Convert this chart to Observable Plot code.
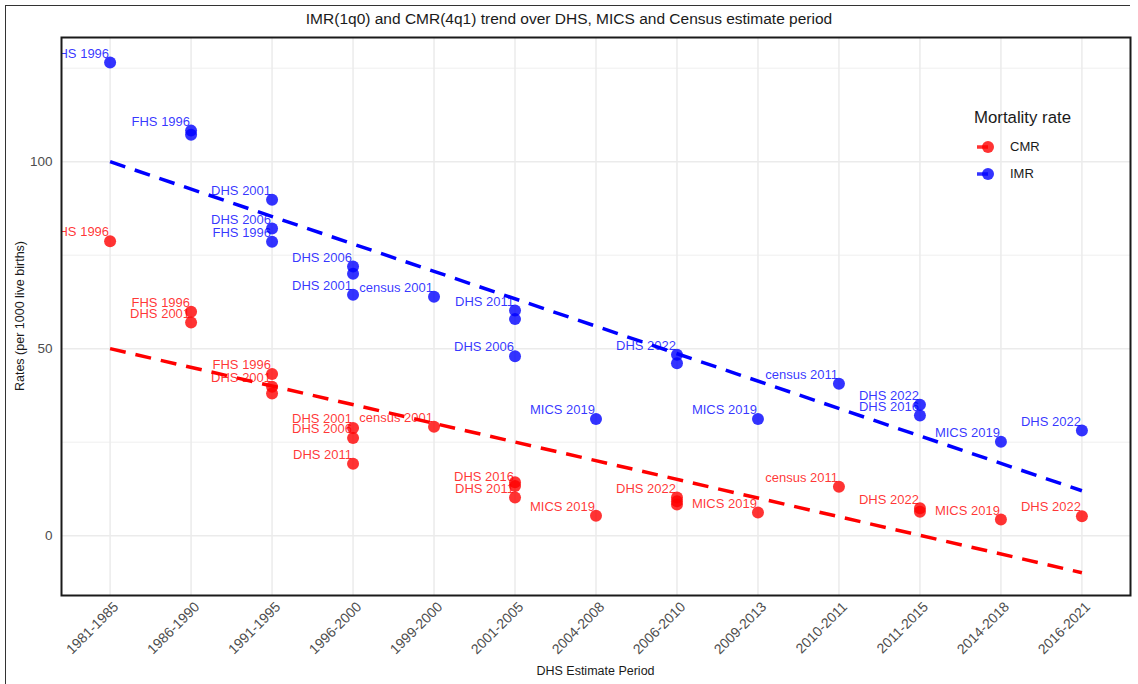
<!DOCTYPE html>
<html>
<head>
<meta charset="utf-8">
<script src="https://cdn.jsdelivr.net/npm/d3@7"></script>
<script src="https://cdn.jsdelivr.net/npm/@observablehq/plot@0.6"></script>
<style>
  body { margin: 0; background: #fff; }
  #wrap { position: relative; width: 1138px; height: 684px; background: #fff; font-family: "Liberation Sans", Arial, sans-serif; overflow: hidden; }
  .abs { position: absolute; white-space: nowrap; }
</style>
</head>
<body>
<div id="wrap">
  <div class="abs" style="left:5px;top:5px;width:1124px;height:800px;border-left:1.5px solid #333;border-top:1.5px solid #333;"></div>
  <div id="chart" class="abs" style="left:0;top:0;"></div>
  <div class="abs" id="title" style="left:0;width:1138px;top:10px;text-align:center;font-size:15.5px;color:#1a1a1a;">IMR(1q0) and CMR(4q1) trend over DHS, MICS and Census estimate period</div>
  <div class="abs" id="xtitle" style="left:61px;width:1069px;top:664px;text-align:center;font-size:12.5px;color:#1a1a1a;">DHS Estimate Period</div>
  <div class="abs" id="ytitle" style="left:20px;top:316px;font-size:12.5px;color:#1a1a1a;transform:translate(-50%,-50%) rotate(-90deg);">Rates (per 1000 live births)</div>
  <div class="abs" id="legend" style="left:974px;top:108px;">
    <div style="font-size:16.8px;color:#1a1a1a;line-height:20px;">Mortality rate</div>
    <div style="position:relative;height:27px;margin-top:7px;">
      <svg width="30" height="20" style="position:absolute;left:0;top:2px;"><line x1="3" y1="10" x2="14" y2="10" stroke="red" stroke-opacity="0.8" stroke-width="3.5"/><circle cx="14" cy="10" r="6" fill="red" fill-opacity="0.8"/></svg>
      <span style="position:absolute;left:36px;top:4px;font-size:13px;color:#1a1a1a;">CMR</span>
    </div>
    <div style="position:relative;height:27px;">
      <svg width="30" height="20" style="position:absolute;left:0;top:2px;"><line x1="3" y1="10" x2="14" y2="10" stroke="blue" stroke-opacity="0.8" stroke-width="3.5"/><circle cx="14" cy="10" r="6" fill="blue" fill-opacity="0.8"/></svg>
      <span style="position:absolute;left:36px;top:4px;font-size:13px;color:#1a1a1a;">IMR</span>
    </div>
  </div>
</div>
<script>
// ---- data ----
const periods = ["1981-1985","1986-1990","1991-1995","1996-2000","1999-2000","2001-2005","2004-2008","2006-2010","2009-2013","2010-2011","2011-2015","2014-2018","2016-2021"];

const imrPeriod = ["1981-1985","1986-1990","1986-1990","1991-1995","1991-1995","1991-1995","1996-2000","1996-2000","1996-2000","1999-2000","2001-2005","2001-2005","2001-2005","2004-2008","2006-2010","2006-2010","2009-2013","2010-2011","2011-2015","2011-2015","2014-2018","2016-2021"];
const imrValue  = [126.5,108.3,107.2,89.8,82.1,78.6,72.0,70.0,64.4,63.9,60.2,57.9,48.0,31.2,48.4,46.1,31.2,40.6,35.0,32.1,25.1,28.1];
const imrLabel  = ["FHS 1996","FHS 1996","","DHS 2001","DHS 2006","FHS 1996","DHS 2006","","DHS 2001","census 2001","DHS 2011","","DHS 2006","MICS 2019","DHS 2022","","MICS 2019","census 2011","DHS 2022","DHS 2016","MICS 2019","DHS 2022"];

const cmrPeriod = ["1981-1985","1986-1990","1986-1990","1991-1995","1991-1995","1991-1995","1996-2000","1996-2000","1996-2000","1999-2000","2001-2005","2001-2005","2001-2005","2004-2008","2006-2010","2006-2010","2006-2010","2009-2013","2010-2011","2011-2015","2011-2015","2014-2018","2016-2021"];
const cmrValue  = [78.7,59.9,57.0,43.2,39.8,38.0,28.8,26.1,19.2,29.1,14.3,13.3,10.2,5.3,10.2,9.2,8.3,6.2,13.1,7.3,6.4,4.3,5.2];
const cmrLabel  = ["FHS 1996","FHS 1996","DHS 2001","FHS 1996","DHS 2001","","DHS 2001","DHS 2006","DHS 2011","census 2001","","DHS 2016","DHS 2011","MICS 2019","DHS 2022","","","MICS 2019","census 2011","DHS 2022","","MICS 2019","DHS 2022"];

// trend lines (at first and last period)
const trendPeriods = ["1981-1985","2016-2021"];
const imrTrend = [100.0, 12.0];
const cmrTrend = [50.0, -9.9];

const yTicks = [0, 50, 100];
const yMinor = [25, 75, 125];

// ---- build ----
const imrRows = imrPeriod.map((p, i) => ({period: p, value: imrValue[i], label: imrLabel[i]}));
const cmrRows = cmrPeriod.map((p, i) => ({period: p, value: cmrValue[i], label: cmrLabel[i]}));
const imrTrendRows = trendPeriods.map((p, i) => ({period: p, value: imrTrend[i]}));
const cmrTrendRows = trendPeriods.map((p, i) => ({period: p, value: cmrTrend[i]}));

const labelOpts = (fill) => ({x: "period", y: "value", text: "label", textAnchor: "end", dx: -1, dy: -9, fill, fillOpacity: 0.8, fontSize: 13, clip: true});
const lineOpts = (stroke) => ({x: "period", y: "value", stroke, strokeWidth: 3.5, strokeDasharray: "16,10", strokeLinecap: "butt"});

const chart = Plot.plot({
  width: 1138,
  height: 684,
  marginLeft: 61,
  marginRight: 8,
  marginTop: 37,
  marginBottom: 89,
  style: {fontFamily: "'Liberation Sans', Arial, sans-serif", background: "transparent"},
  x: {type: "point", domain: periods, padding: 0.6, round: false},
  y: {domain: [-16.0, 133.2]},
  marks: [
    Plot.ruleY(yMinor, {stroke: "#ebebeb", strokeWidth: 0.8}),
    Plot.ruleY(yTicks, {stroke: "#ebebeb", strokeWidth: 1.5}),
    Plot.ruleX(periods, {stroke: "#ebebeb", strokeWidth: 1.5}),
    Plot.axisY({ticks: yTicks, tickSize: 0, tickPadding: 9, fontSize: 13.5, color: "#4d4d4d", label: null}),
    Plot.axisX({tickRotate: -45, tickSize: 0, tickPadding: 9, dx: 6, fontSize: 14, color: "#4d4d4d", label: null}),
    Plot.dot(cmrRows, {x: "period", y: "value", r: 6, fill: "red", fillOpacity: 0.8}),
    Plot.dot(imrRows, {x: "period", y: "value", r: 6, fill: "blue", fillOpacity: 0.8}),
    Plot.text(cmrRows.filter(d => d.label), labelOpts("red")),
    Plot.text(imrRows.filter(d => d.label), labelOpts("blue")),
    Plot.line(cmrTrendRows, lineOpts("red")),
    Plot.line(imrTrendRows, lineOpts("blue")),
    Plot.frame({stroke: "#1a1a1a", strokeWidth: 2})
  ]
});
document.getElementById("chart").appendChild(chart);
</script>
</body>
</html>
